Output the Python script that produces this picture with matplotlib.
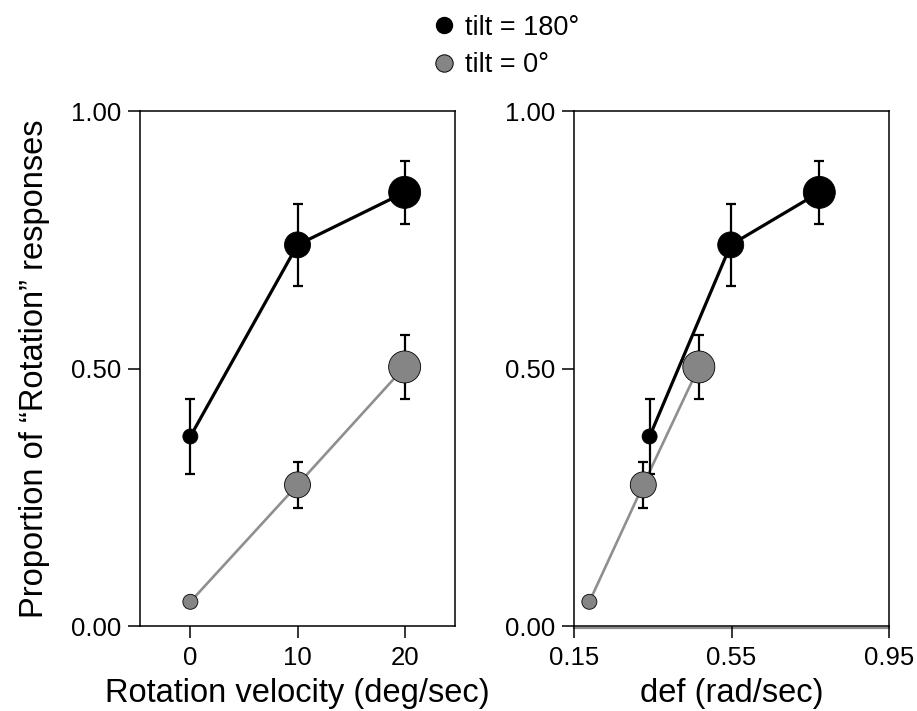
import matplotlib
matplotlib.use("Agg")
import matplotlib.pyplot as plt
from matplotlib.lines import Line2D

plt.rcParams['font.family'] = ['Liberation Sans', 'DejaVu Sans']

# ---------------- data ----------------
rot_velocity = [0, 10, 20]
tilt180_p = [0.368, 0.740, 0.842]
tilt180_err = [0.073, 0.079, 0.061]
tilt0_p = [0.047, 0.274, 0.503]
tilt0_err = [0.0, 0.045, 0.062]

def_tilt180 = [0.342, 0.548, 0.773]
def_tilt0 = [0.189, 0.326, 0.467]

xticks_left = [0, 10, 20]
xticks_right = [0.15, 0.55, 0.95]
xticklabels_right = ["0.15", "0.55", "0.95"]
yticks = [0.0, 0.5, 1.0]
yticklabels = ["0.00", "0.50", "1.00"]
legend_labels = ["tilt = 180°", "tilt = 0°"]

# ---------------- style ----------------
marker_px = [15, 26, 32]
DPI = 100
ms_pt = [p * 72 / DPI for p in marker_px]
sizes = [m ** 2 for m in ms_pt]
GRAY_FILL = '#858585'
GRAY_LINE = '#8f8f8f'
TICK_FS = 18.5
LABEL_FS = 23.5

fig = plt.figure(figsize=(9.17, 7.11), dpi=DPI)
W, H = 917, 711

def axes_px(x0, x1, y0, y1):
    return fig.add_axes([x0 / W, (H - y1) / H, (x1 - x0) / W, (y1 - y0) / H])

axL = axes_px(140, 455, 111, 626)
axR = axes_px(574, 889, 111, 626)

def draw(ax, x180, x0):
    ax.plot(x0, tilt0_p, color=GRAY_LINE, lw=1.9, zorder=2)
    ax.plot(x180, tilt180_p, color='black', lw=2.3, zorder=2)
    ax.errorbar(x180, tilt180_p, yerr=tilt180_err, fmt='none', ecolor='black',
                elinewidth=1.6, capsize=3.8, capthick=1.6, zorder=3)
    ax.errorbar(x0, tilt0_p, yerr=tilt0_err, fmt='none', ecolor='black',
                elinewidth=1.6, capsize=3.8, capthick=1.6, zorder=3)
    ax.scatter(x180, tilt180_p, s=sizes, color='black', edgecolors='black',
               linewidths=0.6, zorder=4)
    ax.scatter(x0, tilt0_p, s=sizes, color=GRAY_FILL, edgecolors='black',
               linewidths=0.6, zorder=4)
    ax.set_ylim(0, 1)
    ax.set_yticks(yticks)
    ax.set_yticklabels(yticklabels)
    for s in ax.spines.values():
        s.set_linewidth(1.1)
    ax.tick_params(direction='out', length=8.5, width=1.1, labelsize=TICK_FS)
    ax.tick_params(axis='x', pad=6)
    ax.tick_params(axis='y', pad=5)

draw(axL, rot_velocity, rot_velocity)
axL.set_xlim(-4.7, 24.7)
axL.set_xticks(xticks_left)
axL.set_xlabel("Rotation velocity (deg/sec)", fontsize=LABEL_FS, labelpad=6)
axL.set_ylabel("Proportion of \u201cRotation\u201d responses", fontsize=LABEL_FS, labelpad=15)

draw(axR, def_tilt180, def_tilt0)
axR.set_xlim(0.15, 0.95)
axR.set_xticks(xticks_right)
axR.set_xticklabels(xticklabels_right)
axR.set_xlabel("def (rad/sec)", fontsize=LABEL_FS, labelpad=6)
axR.axhline(-0.004, color='0.55', lw=1.6, zorder=1, clip_on=False)

handles = [Line2D([], [], ls='none', marker='o', markersize=11.5,
                  markerfacecolor='black', markeredgecolor='black'),
           Line2D([], [], ls='none', marker='o', markersize=12.5,
                  markerfacecolor=GRAY_FILL, markeredgecolor='black', markeredgewidth=0.7)]
fig.legend(handles, legend_labels, loc='upper left', bbox_to_anchor=(411 / W, 1 + 4 / H),
           frameon=False, fontsize=19.5, handletextpad=0.3, labelspacing=0.42,
           handlelength=1.0, borderpad=0.2)

fig.savefig("out.png", dpi=DPI)
